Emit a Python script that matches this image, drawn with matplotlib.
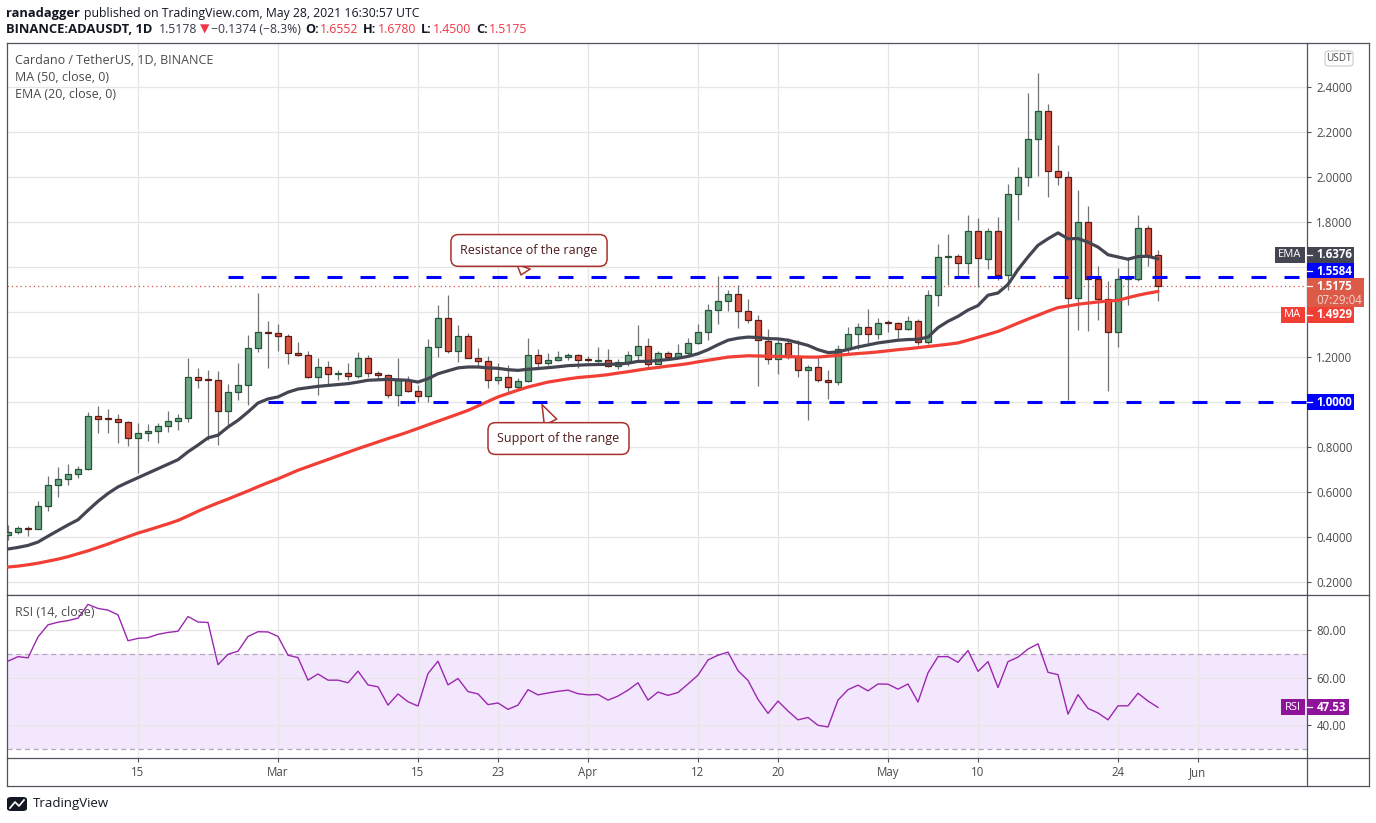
import numpy as np
import pandas as pd
import matplotlib
matplotlib.use('Agg')
import matplotlib.pyplot as plt
from matplotlib.patches import Rectangle, FancyBboxPatch
from matplotlib.lines import Line2D

plt.rcParams['font.family'] = ['Open Sans', 'DejaVu Sans']

W, H = 1376, 823

# ADA/USDT daily candles, Feb 2 -> May 28 2021
dates = pd.date_range('2021-02-02', '2021-05-28', freq='D')

opens = [
    .412, .425, .443, .438, .541, .634, .661, .680, .705, .941, .928, .925, .914, .843, .862, .871,
    .893, .915, .929, 1.114, 1.101, 1.097, .963, 1.047, 1.078, 1.243, 1.314,
    1.310, 1.295, 1.221, 1.212, 1.114, 1.158, 1.127, 1.131, 1.116, 1.199, 1.131, 1.123, 1.034, 1.101,
    1.052, 1.030, 1.247, 1.376, 1.228, 1.296, 1.199, 1.185, 1.101, 1.114, 1.070, 1.096, 1.212, 1.176,
    1.190, 1.203, 1.212,
    1.190, 1.183, 1.190, 1.163, 1.181, 1.212, 1.252, 1.172, 1.221, 1.203, 1.218, 1.265, 1.314, 1.412,
    1.452, 1.480, 1.406, 1.367, 1.274, 1.194, 1.265, 1.203, 1.145, 1.159, 1.101, 1.092, 1.239, 1.305,
    1.336, 1.305,
    1.354, 1.351, 1.328, 1.363, 1.270, 1.479, 1.647, 1.650, 1.621, 1.763, 1.639, 1.763, 1.566, 1.928,
    2.003, 2.172, 2.296, 2.030, 2.000, 1.465, 1.800, 1.550, 1.460, 1.312, 1.550, 1.550, 1.776, 1.6552,
]
highs = [
    .456, .452, .452, .563, .671, .711, .724, .716, .956, .984, .972, .949, .919, .908, .905, .910,
    .960, .947, 1.199, 1.151, 1.144, 1.141, 1.080, 1.176, 1.298, 1.487, 1.360,
    1.347, 1.302, 1.267, 1.230, 1.199, 1.182, 1.144, 1.176, 1.225, 1.210, 1.141, 1.127, 1.196, 1.118,
    1.075, 1.280, 1.431, 1.476, 1.342, 1.310, 1.242, 1.208, 1.173, 1.164, 1.110, 1.288, 1.238, 1.221,
    1.230, 1.219, 1.216,
    1.206, 1.248, 1.239, 1.194, 1.227, 1.342, 1.288, 1.228, 1.230, 1.258, 1.288, 1.347, 1.439, 1.560,
    1.498, 1.520, 1.457, 1.386, 1.325, 1.288, 1.288, 1.279, 1.167, 1.197, 1.145, 1.254, 1.335, 1.351,
    1.413, 1.375,
    1.367, 1.357, 1.382, 1.370, 1.498, 1.702, 1.747, 1.660, 1.831, 1.820, 1.775, 1.824, 1.972, 2.045,
    2.376, 2.465, 2.328, 2.145, 2.030, 1.945, 1.871, 1.604, 1.541, 1.595, 1.646, 1.831, 1.786, 1.678,
]
lows = [
    .387, .416, .408, .435, .517, .579, .634, .665, .700, .864, .864, .819, .806, .686, .830, .819,
    .870, .875, .913, 1.064, .834, .812, .895, 1.009, .990, 1.224, 1.152,
    1.228, 1.172, 1.206, 1.110, 1.031, 1.082, 1.100, 1.100, 1.107, 1.111, 1.100, 1.019, .983, 1.045,
    1.000, 1.000, 1.203, 1.219, 1.180, 1.195, 1.155, 1.064, 1.082, 1.037, 1.058, 1.092, 1.155, 1.167,
    1.185, 1.190, 1.151,
    1.180, 1.178, 1.157, 1.150, 1.163, 1.190, 1.157, 1.170, 1.187, 1.195, 1.203, 1.260, 1.279, 1.346,
    1.406, 1.331, 1.352, 1.071, 1.170, 1.126, 1.194, 1.113, .920, 1.090, 1.015, 1.077, 1.221, 1.236,
    1.265, 1.283,
    1.313, 1.286, 1.320, 1.255, 1.261, 1.428, 1.521, 1.554, 1.572, 1.512, 1.594, 1.545, 1.501, 1.812,
    1.961, 2.006, 1.912, 1.966, 1.012, 1.320, 1.317, 1.364, 1.050, 1.246, 1.431, 1.540, 1.604, 1.450,
]
closes = [
    .425, .443, .438, .541, .634, .661, .680, .705, .941, .928, .925, .912, .843, .862, .871, .893,
    .915, .929, 1.114, 1.101, 1.098, .963, 1.047, 1.078, 1.243, 1.314, 1.308,
    1.295, 1.221, 1.212, 1.114, 1.158, 1.127, 1.131, 1.116, 1.199, 1.131, 1.123, 1.034, 1.101, 1.052,
    1.030, 1.247, 1.376, 1.228, 1.296, 1.199, 1.185, 1.101, 1.114, 1.070, 1.096, 1.212, 1.176, 1.190,
    1.203, 1.212, 1.190,
    1.188, 1.190, 1.163, 1.181, 1.212, 1.252, 1.172, 1.221, 1.203, 1.218, 1.265, 1.314, 1.412, 1.452,
    1.480, 1.406, 1.367, 1.278, 1.194, 1.265, 1.200, 1.145, 1.159, 1.101, 1.092, 1.239, 1.305, 1.336,
    1.305, 1.354,
    1.352, 1.328, 1.363, 1.270, 1.479, 1.647, 1.650, 1.621, 1.763, 1.643, 1.763, 1.566, 1.928, 2.003,
    2.172, 2.296, 2.030, 2.001, 1.465, 1.800, 1.550, 1.460, 1.312, 1.550, 1.553, 1.776, 1.650, 1.5175,
]

ema20 = [
    .348, .355, .364, .379, .405, .430, .455, .478, .520, .560, .595, .624, .645, .665, .685, .705,
    .725, .745, .780, .810, .842, .854, .890, .920, .957, .997, 1.015,
    1.024, 1.045, 1.059, 1.065, 1.071, 1.075, 1.079, 1.083, 1.090, 1.098, 1.100, 1.102, 1.100, 1.098,
    1.090, 1.105, 1.127, 1.140, 1.153, 1.157, 1.157, 1.153, 1.151, 1.145, 1.142, 1.147, 1.150, 1.154,
    1.158, 1.163, 1.165,
    1.167, 1.168, 1.169, 1.170, 1.174, 1.182, 1.182, 1.186, 1.190, 1.196, 1.204, 1.216, 1.234, 1.256,
    1.276, 1.285, 1.290, 1.288, 1.283, 1.282, 1.276, 1.265, 1.253, 1.234, 1.221, 1.224, 1.235, 1.246,
    1.255, 1.264,
    1.270, 1.276, 1.279, 1.280, 1.290, 1.332, 1.360, 1.382, 1.410, 1.430, 1.476, 1.486, 1.524, 1.590,
    1.646, 1.698, 1.727, 1.753, 1.727, 1.728, 1.712, 1.690, 1.656, 1.646, 1.636, 1.648, 1.649, 1.6376,
]
ma50 = [
    .268, .272, .278, .285, .294, .303, .314, .327, .340, .355, .370, .387, .403, .419, .432, .446,
    .460, .475, .495, .516, .535, .553, .570, .588, .606, .625, .643,
    .660, .679, .698, .714, .730, .746, .762, .778, .794, .809, .824, .839, .853, .868,
    .884, .900, .916, .932, .948, .964, .984, 1.004, 1.024, 1.039, 1.054, 1.068, 1.079, 1.090,
    1.097, 1.104, 1.110,
    1.114, 1.118, 1.123, 1.130, 1.136, 1.143, 1.150, 1.155, 1.161, 1.166, 1.172, 1.180, 1.187, 1.194,
    1.201, 1.204, 1.207, 1.206, 1.205, 1.204, 1.203, 1.202, 1.201, 1.201, 1.205, 1.209, 1.213, 1.217,
    1.220, 1.224,
    1.229, 1.234, 1.238, 1.243, 1.248, 1.253, 1.258, 1.264, 1.276, 1.289, 1.302, 1.315, 1.333, 1.352,
    1.370, 1.387, 1.405, 1.421, 1.428, 1.436, 1.441, 1.446, 1.450, 1.453, 1.465, 1.476, 1.485, 1.4929,
]
rsi = [
    67.0, 68.9, 68.4, 77.2, 82.3, 83.4, 84.1, 85.1, 90.9, 89.2, 88.5, 86.5, 75.6, 76.6, 76.9, 78.3,
    79.1, 79.6, 85.8, 83.5, 83.3, 65.5, 69.9, 71.2, 77.4, 79.4, 79.3,
    77.4, 69.5, 68.5, 59.0, 61.6, 59.0, 59.0, 57.9, 62.8, 57.0, 56.2, 48.5, 53.2, 49.9,
    48.1, 61.8, 67.0, 57.0, 59.7, 54.2, 53.2, 48.7, 49.4, 46.7, 48.5, 55.0, 52.8, 53.6,
    54.3, 54.8, 53.3,
    52.8, 53.0, 50.6, 52.3, 54.8, 57.9, 50.6, 54.0, 52.6, 53.8, 57.4, 61.1, 67.5, 69.5,
    70.8, 63.0, 58.9, 50.9, 45.0, 50.2, 46.0, 42.3, 43.3, 40.0, 39.3, 50.6, 55.0, 56.9,
    54.5, 57.4,
    57.3, 55.2, 57.4, 49.8, 62.1, 68.9, 68.9, 66.5, 71.5, 62.7, 66.8, 55.9, 66.8, 68.7,
    72.1, 74.3, 62.3, 61.3, 44.7, 52.9, 47.1, 45.2, 42.3, 48.2, 48.2, 53.5, 50.2, 47.53,
]

resistance = 1.5584
support = 1.0
res_start = '2021-02-24'
sup_start = '2021-02-28'

tick_dates = ['2021-02-15', '2021-03-01', '2021-03-15', '2021-03-23', '2021-04-01', '2021-04-12',
              '2021-04-20', '2021-05-01', '2021-05-10', '2021-05-24', '2021-06-01']
tick_labels = ['15', 'Mar', '15', '23', 'Apr', '12', '20', 'May', '10', '24', 'Jun']
price_ticks = [0.2, 0.4, 0.6, 0.8, 1.0, 1.2, 1.4, 1.6, 1.8, 2.0, 2.2, 2.4]
hidden_price_ticks = [1.0, 1.4, 1.6]
rsi_ticks = [40, 60, 80]

# colours
GREEN, GREEN_EDGE = '#6ba583', '#225437'
RED, RED_EDGE = '#d75442', '#5b1a13'
WICK = '#737375'
EMA_C = '#434651'
MA_C = '#f23f36'
BLUE = '#0000ff'
GRID = '#e6e6e6'
FRAME = '#50535e'
TXT = '#4a4a4a'
RSI_C = '#9c27b0'
CALL_EDGE = '#a8322d'


def fx(x):
    return x / W


def fy(y):
    return 1 - y / H


def day(d):
    return (pd.Timestamp(d) - dates[0]).days


fig = plt.figure(figsize=(W / 100, H / 100), dpi=100)
fig.patch.set_facecolor('white')

L, R = 6.7, 1306.7
ax = fig.add_axes([fx(L), fy(595), fx(R) - fx(L), fy(43) - fy(595)])
ax_rsi = fig.add_axes([fx(L), fy(758.3), fx(R) - fx(L), fy(595) - fy(758.3)])

x = np.arange(len(dates))
o, hi, lo, c = map(np.array, (opens, highs, lows, closes))
tick_x = [day(d) for d in tick_dates]

for a in (ax, ax_rsi):
    a.set_xlim(-0.13, 129.87)
    a.set_xticks(tick_x)
    a.grid(True, color=GRID, lw=0.9)
    for s in a.spines.values():
        s.set_color(FRAME)
        s.set_linewidth(0.9)

# --- price panel ---
ax.set_ylim(0.1436, 2.597)
up = c >= o
body_lo = np.minimum(o, c)
body_h = np.maximum(np.abs(c - o), 0.004)
ax.vlines(x, lo, hi, color=WICK, lw=0.9, zorder=3)
ax.bar(x[up], body_h[up], bottom=body_lo[up], width=0.66, color=GREEN,
       edgecolor=GREEN_EDGE, lw=0.9, zorder=4)
ax.bar(x[~up], body_h[~up], bottom=body_lo[~up], width=0.66, color=RED,
       edgecolor=RED_EDGE, lw=0.9, zorder=4)
ax.plot(x, ma50, color=MA_C, lw=2.3, zorder=5, solid_capstyle='round')
ax.plot(x, ema20, color=EMA_C, lw=2.3, zorder=6, solid_capstyle='round')

ax.hlines(resistance, day(res_start), 129.87, color=BLUE, lw=2.2, linestyles=(0, (4.9, 5.9)), zorder=7)
ax.hlines(support, day(sup_start), 129.87, color=BLUE, lw=2.2, linestyles=(0, (4.9, 5.9)), zorder=7)
ax.axhline(c[-1], color=RED, lw=0.9, ls=(0, (1, 2.5)), zorder=2)

ax.yaxis.tick_right()
ax.set_yticks(price_ticks)
ax.set_yticklabels(['' if t in hidden_price_ticks else f'{t:.4f}' for t in price_ticks])
ax.tick_params(axis='y', length=3, pad=4, labelsize=8.3, colors=FRAME, labelcolor=TXT)
ax.tick_params(axis='x', length=0, labelbottom=False)

# callouts
ax.annotate('Resistance of the range', xy=(51.3, 1.566), xytext=(52.1, 1.675),
            ha='center', va='center', fontsize=9, color='#4e1a1a', zorder=9,
            bbox=dict(boxstyle='round,pad=0.75,rounding_size=0.6', fc='white', ec=CALL_EDGE, lw=1.1),
            arrowprops=dict(arrowstyle='wedge,tail_width=1.1,shrink_factor=0.5', fc='white',
                            ec=CALL_EDGE, lw=1.1, shrinkA=0, shrinkB=0))
ax.annotate('Support of the range', xy=(53.4, 0.99), xytext=(55.05, 0.839),
            ha='center', va='center', fontsize=9, color='#4e1a1a', zorder=9,
            bbox=dict(boxstyle='round,pad=0.75,rounding_size=0.6', fc='white', ec=CALL_EDGE, lw=1.1),
            arrowprops=dict(arrowstyle='wedge,tail_width=1.1,shrink_factor=0.5', fc='white',
                            ec=CALL_EDGE, lw=1.1, shrinkA=0, shrinkB=0))

# --- RSI panel ---
ax_rsi.set_ylim(26.1, 94.86)
ax_rsi.axhspan(30, 70, color='#f3e7fd', zorder=0.5, lw=0)
ax_rsi.axhline(70, color='#b3a6ba', lw=0.9, ls=(0, (4, 3)), zorder=2)
ax_rsi.axhline(30, color='#b3a6ba', lw=0.9, ls=(0, (4, 3)), zorder=2)
ax_rsi.plot(x, rsi, color=RSI_C, lw=1.0, zorder=4)
ax_rsi.yaxis.tick_right()
ax_rsi.set_yticks(rsi_ticks)
ax_rsi.set_yticklabels([f'{t:.2f}' for t in rsi_ticks])
ax_rsi.set_xticklabels(tick_labels)
ax_rsi.tick_params(axis='y', length=3, pad=4, labelsize=8.3, colors=FRAME, labelcolor=TXT)
ax_rsi.tick_params(axis='x', length=3, pad=2.5, labelsize=8.3, colors=FRAME, labelcolor=TXT)

# --- frame around the whole chart ---
def fline(x0, y0, x1, y1, color=FRAME, lw=0.9):
    fig.add_artist(Line2D([fx(x0), fx(x1)], [fy(y0), fy(y1)], color=color, lw=lw))


fline(R, 43, 1369, 43)
fline(1369, 43, 1369, 786)
fline(L, 786, 1369, 786)
fline(L, 758.3, L, 786)
fline(R, 758.3, R, 786)
fline(R, 595, 1369, 595)
fline(R, 758.3, 1369, 758.3)


def rect_px(x0, y0, x1, y1, fc, round_=False, ec='none'):
    if round_:
        p = FancyBboxPatch((fx(x0), fy(y1)), fx(x1) - fx(x0), fy(y0) - fy(y1),
                           boxstyle='round,pad=0,rounding_size=0.003', fc=fc, ec=ec, lw=0.8,
                           transform=fig.transFigure)
    else:
        p = Rectangle((fx(x0), fy(y1)), fx(x1) - fx(x0), fy(y0) - fy(y1), fc=fc, ec=ec,
                      transform=fig.transFigure)
    fig.add_artist(p)


def text_px(xp, yp, s, **kw):
    kw.setdefault('va', 'center')
    kw.setdefault('ha', 'left')
    return fig.text(fx(xp), fy(yp), s, **kw)


def ypx(a, val):
    return H - a.transData.transform((0, val))[1]


def value_box(a, val, label, fc, shift=0, tag=None, tag_x0=None, x1=1354.3, sub=None):
    yc = ypx(a, val) + shift
    h = 16
    if sub:
        rect_px(R, yc - 8.5, x1, yc + 21, fc)
    else:
        rect_px(R, yc - h / 2, x1, yc + h / 2, fc)
    fline(R, yc, R + 5, yc, color='white', lw=0.9)
    text_px(1316.5, yc, label, color='white', fontsize=8.3, fontweight='bold')
    if sub:
        text_px(1316.5, yc + 14, sub, color='#f7d7d2', fontsize=8.3)
    if tag:
        rect_px(tag_x0, yc - h / 2, R - 2, yc + h / 2, fc)
        text_px((tag_x0 + R - 2) / 2, yc, tag, color='white', fontsize=8, ha='center')


value_box(ax, ema20[-1], f'{ema20[-1]:.4f}', EMA_C, shift=-4.1, tag='EMA', tag_x0=1275)
value_box(ax, resistance, f'{resistance:.4f}', BLUE, shift=-5.4)
value_box(ax, c[-1], f'{c[-1]:.4f}', '#dc5b48', shift=0.6, x1=1364, sub='07:29:04')
value_box(ax, ma50[-1], f'{ma50[-1]:.4f}', MA_C, shift=23.3, tag='MA', tag_x0=1281)
value_box(ax, support, f'{support:.4f}', BLUE)
value_box(ax_rsi, rsi[-1], f'{rsi[-1]:.2f}', '#8e1599', tag='RSI', tag_x0=1281, x1=1349.3)

# USDT unit tag
rect_px(1325, 51, 1353, 66, 'white', round_=True, ec='#c9cbd1')
text_px(1339, 58.5, 'USDT', color=TXT, fontsize=7.2, ha='center')

# legends inside panels
text_px(15, 61, 'Cardano / TetherUS, 1D, BINANCE', color=TXT, fontsize=9)
text_px(15, 77.5, 'MA (50, close, 0)', color=TXT, fontsize=9)
text_px(15, 94, 'EMA (20, close, 0)', color=TXT, fontsize=9)
text_px(15, 612, 'RSI (14, close)', color=TXT, fontsize=9)

# header lines
renderer = fig.canvas.get_renderer()


def chain(xp, yp, parts):
    for s, color, weight, size, gap in parts:
        t = text_px(xp, yp, s, color=color, fontsize=size, fontweight=weight)
        bb = t.get_window_extent(renderer=renderer)
        xp = bb.x1 + gap


DARK = '#131722'
HRED = '#f23645'
chain(6, 13, [('ranadagger', DARK, 'bold', 9.3, 4),
              ('published on TradingView.com, May 28, 2021 16:30:57 UTC', DARK, 'normal', 8.8, 0)])
chain(6, 29.5, [('BINANCE:ADAUSDT, 1D', DARK, 'bold', 9.4, 6),
                ('1.5178', '#363a45', 'normal', 8.8, 3),
                ('\u25bc', HRED, 'normal', 8.8, 2),
                ('\u22120.1374 (\u22128.3%)', '#363a45', 'normal', 8.8, 4),
                ('O:', DARK, 'bold', 9.2, 1), ('1.6552', HRED, 'normal', 8.8, 5),
                ('H:', DARK, 'bold', 9.2, 1), ('1.6780', HRED, 'normal', 8.8, 5),
                ('L:', DARK, 'bold', 9.2, 1), ('1.4500', HRED, 'normal', 8.8, 5),
                ('C:', DARK, 'bold', 9.2, 1), ('1.5175', HRED, 'normal', 8.8, 0)])

# TradingView footer mark
rect_px(7, 797, 27, 811, '#131722', round_=True)
fig.add_artist(Line2D([fx(10), fx(15), fx(19), fx(24)], [fy(808), fy(802), fy(806), fy(800)],
                      color='white', lw=1.2))
text_px(33, 804, 'TradingView', color=DARK, fontsize=9.5)

fig.savefig('out.png', dpi=100, facecolor='white')
